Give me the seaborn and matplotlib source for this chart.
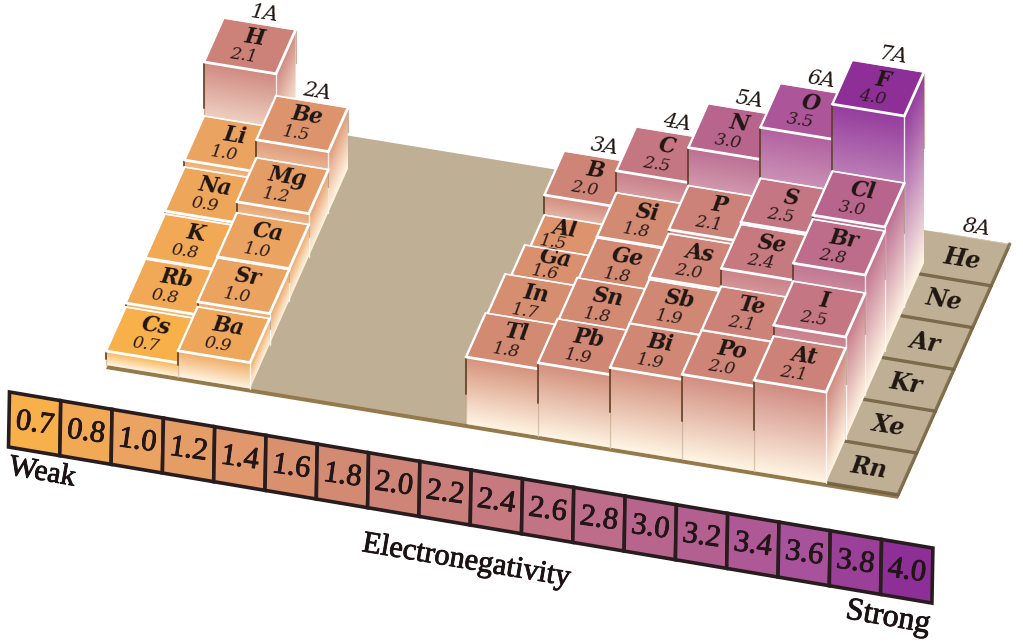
import numpy as np
import matplotlib.pyplot as plt
import matplotlib.patheffects as pe
from matplotlib.colors import to_rgb
from matplotlib.patches import Polygon
import seaborn as sns

# groups, listed from the top of the table down to period 6
group_names = ['1A', '2A', '3A', '4A', '5A', '6A', '7A']
symbols = [
    ['H', 'Li', 'Na', 'K', 'Rb', 'Cs'],
    ['Be', 'Mg', 'Ca', 'Sr', 'Ba'],
    ['B', 'Al', 'Ga', 'In', 'Tl'],
    ['C', 'Si', 'Ge', 'Sn', 'Pb'],
    ['N', 'P', 'As', 'Sb', 'Bi'],
    ['O', 'S', 'Se', 'Te', 'Po'],
    ['F', 'Cl', 'Br', 'I', 'At'],
]
electroneg = [
    [2.1, 1.0, 0.9, 0.8, 0.8, 0.7],
    [1.5, 1.2, 1.0, 1.0, 0.9],
    [2.0, 1.5, 1.6, 1.7, 1.8],
    [2.5, 1.8, 1.8, 1.8, 1.9],
    [3.0, 2.1, 2.0, 1.9, 1.9],
    [3.5, 2.5, 2.4, 2.1, 2.0],
    [4.0, 3.0, 2.8, 2.5, 2.1],
]
# column heights as they were drawn in the picture
drawn_height = [
    [83, 29, 22, 19, 18, 14],
    [61, 43, 32, 31, 26],
    [53, 33, 47, 62, 67],
    [89, 67, 66, 70, 73],
    [124, 86, 82, 80, 80],
    [156, 105, 103, 85, 85],
    [191, 124, 120, 102, 91],
]
noble_gases = ['He', 'Ne', 'Ar', 'Kr', 'Xe', 'Rn']
scale_values = ['0.7', '0.8', '1.0', '1.2', '1.4', '1.6', '1.8', '2.0', '2.2',
                '2.4', '2.6', '2.8', '3.0', '3.2', '3.4', '3.6', '3.8', '4.0']

CREAM = '#fff4e2'
PLATE = '#bfb095'
SERIF = 'DejaVu Serif'
BOOK = 'Liberation Serif'
# these lids are half hidden by the next one, so their text sits further back
# (sideways, symbol up, value up)
label_shift = {'Al': (-11, -6, -10), 'Ga': (0, -6, -10)}

sns.set_theme(style='white')
fig = plt.figure(figsize=(10.23, 6.42), dpi=100)
ax = fig.add_axes([0, 0, 1, 1])
ax.set_xlim(0, 1023)
ax.set_ylim(642, 0)
ax.set_autoscale_on(False)
ax.axis('off')

cmap = sns.blend_palette(['#f8b04a', '#eaa262', '#de956c', '#d08873', '#c97c7e',
                          '#bf6f88', '#b4608f', '#aa549b', '#8e2f97'], as_cmap=True)
scale_nums = [float(s) for s in scale_values]
heavy = [pe.withStroke(linewidth=0.6, foreground='#1c1214')]


def value_color(v):
    return cmap(np.interp(v, scale_nums, np.linspace(0, 1, len(scale_nums))))[:3]


def P(c, r, h=0):
    # grid position on the floor plate to picture position
    return np.array([106 + 72 * c + 19.6 * r, 365 + 11.8 * c - 44 * r - h])


def gradient_face(pts, slope, height, col, z):
    # face fading from col along its top edge to cream on the floor
    pts = np.array(pts)
    x0, y0 = pts[0]
    xs = np.linspace(pts[:, 0].min(), pts[:, 0].max(), 12)
    ys = np.linspace(pts[:, 1].min(), pts[:, 1].max(), 48)
    gx, gy = np.meshgrid(xs, ys)
    t = np.clip((gy - (y0 + slope * (gx - x0))) / height, 0, 1)[..., None]
    rgb = (1 - t) * np.array(col) + t * np.array(to_rgb(CREAM))
    patch = Polygon(pts, fc='none', ec='none', zorder=z)
    ax.add_patch(patch)
    im = ax.imshow(rgb, extent=(xs[0], xs[-1], ys[-1], ys[0]), aspect='auto',
                   interpolation='bilinear', zorder=z)
    im.set_clip_path(patch)


def draw_column(c, r, sym, val, h, z):
    col = value_color(val)
    soft = tuple(0.93 * np.array(col) + 0.07)
    a, b = P(c, r, h), P(c + 1, r, h)
    d, e = P(c, r + 1, h), P(c + 1, r + 1, h)
    # right side, front side, lid
    gradient_face([b, e, P(c + 1, r + 1), P(c + 1, r)], -44 / 19.6, h, soft, z)
    gradient_face([a, b, P(c + 1, r), P(c, r)], 11.8 / 72, h, soft, z + 0.1)
    ax.add_patch(Polygon([a, b, e, d], fc=col, ec='#f6eef2', lw=1.0, zorder=z + 0.2))
    ax.plot(*zip(b, P(c + 1, r)), color='white', lw=1.0, alpha=0.8, zorder=z + 0.25)
    ax.plot(*zip(a, P(c, r, h * 0.45)), color='#5c3d22', lw=1.4, alpha=0.85, zorder=z + 0.25)
    ax.plot(*zip(P(c, r, h * 0.45), P(c, r)), color='#8f6a45', lw=1.0, alpha=0.3, zorder=z + 0.25)
    ax.plot(*zip(e, P(c + 1, r + 1, h * 0.6)), color='#8a6848', lw=0.9, alpha=0.5, zorder=z + 0.25)
    ax.plot(*zip(a, b), color='white', lw=2.0, solid_capstyle='round', zorder=z + 0.3)
    ax.plot(*zip(b, e), color='white', lw=2.0, solid_capstyle='round', zorder=z + 0.3)
    ax.plot(*zip(a, d), color='white', lw=1.6, solid_capstyle='round', zorder=z + 0.3)
    ax.plot(*zip(d, e), color='white', lw=1.2, alpha=0.85, zorder=z + 0.3)

    dx, dy_sym, dy_val = label_shift.get(sym, (0, 0, 0))
    sx, sy = P(c + 0.515, r + 0.69, h)
    ax.text(sx + dx, sy + dy_sym, sym, fontsize=15.5, family=SERIF, weight='bold', style='italic',
            color='#201612', ha='center', va='center', rotation=-9,
            rotation_mode='anchor', zorder=z + 0.24)
    vx, vy = P(c + 0.477, r + 0.27, h)
    ax.text(vx + dx, vy + dy_val, f'{val:.1f}', fontsize=12.5, family=SERIF, style='italic',
            color='#2a1c1a', ha='center', va='center', rotation=-9,
            rotation_mode='anchor', zorder=z + 0.24)


# floor plate with its edge
depth = 5.7
edge = [P(0, 0), P(11, 0), P(11, depth), P(0, depth)]
ax.add_patch(Polygon(np.array(edge) + [0, 4], fc='#94794a', ec='none', zorder=1))
ax.add_patch(Polygon(edge, fc=PLATE, ec='none', zorder=2))

# noble gas tiles along the right edge
for i, sym in enumerate(noble_gases[::-1]):
    r0, r1 = i * 0.95, (i + 1) * 0.95
    ax.plot(*zip(P(10, r0) + [1, 0], P(11, r0)), color='#6e5c3c', lw=2.4, alpha=0.85, zorder=3)
    ax.plot(*zip(P(11, r0), P(11, r1)), color='#7a6847', lw=2.4, alpha=0.85, zorder=3)
    ax.plot(*zip(P(10, r1), P(11, r1) - [2, 0]), color='#d2c6ad', lw=0.7, zorder=3)
    x, y = P(10.47, (r0 + r1) / 2)
    ax.text(x, y, sym, fontsize=17, family=SERIF, weight='bold', style='italic',
            color='#201612', ha='center', va='center', rotation=-9,
            rotation_mode='anchor', zorder=4)
x, y = P(10.5, 6 * 0.95) + [3, -10]
ax.text(x, y, '8A', fontsize=15, family=SERIF, style='italic', color='#201612',
        ha='center', va='center', rotation=-9, rotation_mode='anchor', zorder=4)

# columns, back row first and left to right within a row
for row in range(5, -1, -1):
    z = 10 + 5 * (5 - row)
    for g, name in enumerate(group_names):
        col_index = g if g < 2 else g + 3
        n = len(symbols[g])
        if row >= n:
            continue
        i = n - 1 - row
        draw_column(col_index, row, symbols[g][i], electroneg[g][i],
                    drawn_height[g][i], z + 0.5 * g)
        if i == 0:
            x, y = P(col_index + 0.5, row + 1, drawn_height[g][0]) + [5, -10]
            ax.text(x, y, name, fontsize=15, family=SERIF, style='italic',
                    color='#201612', ha='center', va='center', rotation=-9,
                    rotation_mode='anchor', zorder=60)

# colour key strip
key_tl = np.array([9.5, 392.0])
key_step = np.array([51.3, 8.67])
key_down = np.array([-1.0, 55.0])
for i, label in enumerate(scale_values):
    p0 = key_tl + i * key_step
    p1 = p0 + key_step
    ax.add_patch(Polygon([p0, p1, p1 + key_down, p0 + key_down],
                         fc=value_color(float(label)), ec='#281c1e', lw=2.6,
                         joinstyle='miter', zorder=70))
    tx, ty = p0 + 0.5 * key_step + 0.5 * key_down
    ax.text(tx, ty, label, fontsize=22, family=BOOK, color='#221618', ha='center',
            va='center', rotation=-8, rotation_mode='anchor', zorder=71,
            path_effects=heavy)

ax.text(42, 473, 'Weak', fontsize=21.5, family=BOOK, color='#1c1214', ha='center',
        va='center', rotation=-10, rotation_mode='anchor', path_effects=heavy)
ax.text(466, 561, 'Electronegativity', fontsize=22, family=BOOK, color='#1c1214',
        ha='center', va='center', rotation=-9.5, rotation_mode='anchor', path_effects=heavy)
ax.text(888, 618, 'Strong', fontsize=23, family=BOOK, color='#1c1214', ha='center',
        va='center', rotation=-10, rotation_mode='anchor', path_effects=heavy)

fig.savefig('out.png', dpi=100, facecolor='white')
